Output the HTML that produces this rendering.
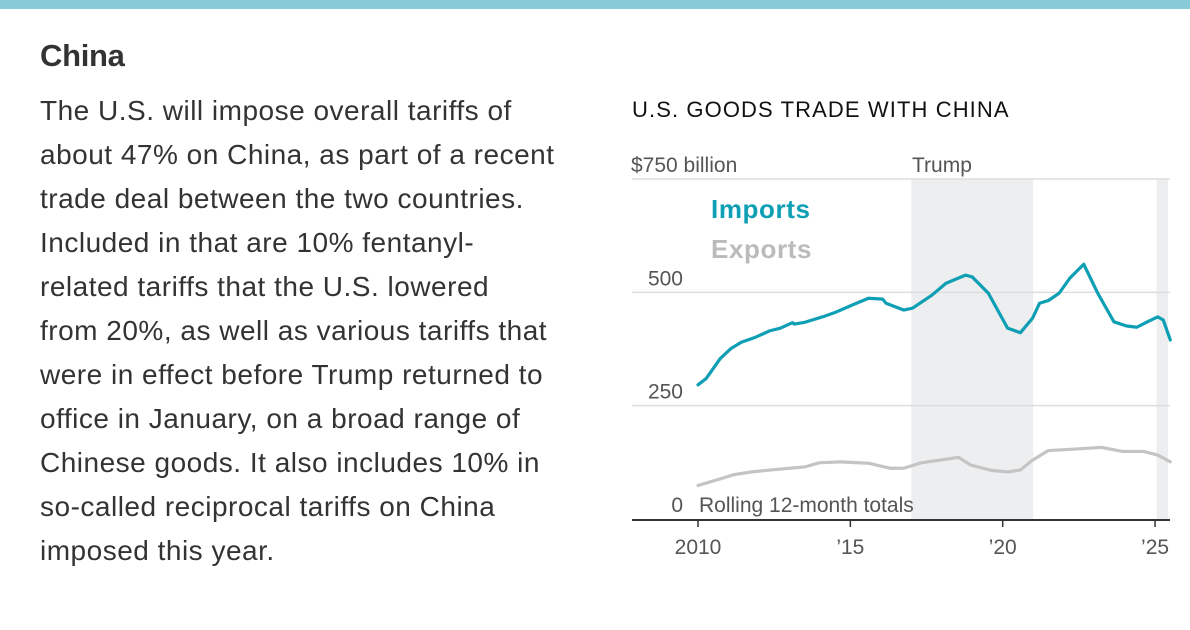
<!DOCTYPE html>
<html><head><meta charset="utf-8"><style>
body{margin:0;width:1190px;height:630px;background:#fff;overflow:hidden;font-family:"Liberation Sans",sans-serif;position:relative}
#bar{position:absolute;left:0;top:0;width:1190px;height:9px;background:#88cad8}
#title{position:absolute;left:40px;top:38px;font-size:31px;font-weight:bold;color:#333;letter-spacing:-0.3px}
#body{position:absolute;left:40px;top:89px;font-size:28px;line-height:44px;color:#333;letter-spacing:0.5px}
#body div{white-space:nowrap}
#ctitle{position:absolute;left:632px;top:97px;font-size:22px;color:#111;letter-spacing:1.1px}
svg{position:absolute;left:0;top:0}
svg text{font-family:"Liberation Sans",sans-serif}
</style></head><body>
<div id="bar"></div>
<div id="title">China</div>
<div id="body">
<div>The U.S. will impose overall tariffs of</div>
<div>about 47% on China, as part of a recent</div>
<div>trade deal between the two countries.</div>
<div>Included in that are 10% fentanyl-</div>
<div>related tariffs that the U.S. lowered</div>
<div>from 20%, as well as various tariffs that</div>
<div>were in effect before Trump returned to</div>
<div>office in January, on a broad range of</div>
<div>Chinese goods. It also includes 10% in</div>
<div>so-called reciprocal tariffs on China</div>
<div>imposed this year.</div>
</div>
<div id="ctitle">U.S. GOODS TRADE WITH CHINA</div>
<svg id="chart" width="1190" height="630"></svg>
<script>
const importYears=[2010.0,2010.27,2010.73,2011.08,2011.42,2011.89,2012.35,2012.7,2013.1,2013.16,2013.51,2014.09,2014.55,2015.13,2015.6,2016.06,2016.17,2016.75,2017.04,2017.68,2018.14,2018.78,2019.0,2019.53,2020.16,2020.58,2020.98,2021.21,2021.5,2021.85,2022.2,2022.66,2023.12,2023.65,2024.05,2024.4,2024.69,2025.09,2025.27,2025.5];
const importValues=[296,310,354,376,390,401,415,421,433,430,434,446,457,474,487,485,476,461,465,494,520,538,534,498,421,411,443,476,482,498,531,562,498,435,426,423,433,446,439,395];
const exportYears=[2010.0,2010.61,2011.19,2011.77,2012.35,2013.51,2013.97,2014.67,2015.6,2016.29,2016.75,2017.33,2018.14,2018.55,2018.95,2019.65,2020.17,2020.58,2020.98,2021.5,2022.31,2023.24,2023.93,2024.63,2025.09,2025.5];
const exportValues=[74,86,98,104,108,115,124,126,123,112,112,124,132,136,119,107,104,108,130,151,154,158,149,149,141,126];
const yTicks=[0,250,500,750];
const yTickLabels=["0","250","500","$750 billion"];
const xTicks=[2010,2015,2020,2025];
const xTickLabels=["2010","\u201915","\u201920","\u201925"];
const shadeStart=[2017.0,2025.05];
const shadeEnd=[2021.0,2025.5];

const x=y=>698+(y-2010)*30.47;
const yv=v=>519-v*0.4533;
const svg=document.getElementById('chart');
const NS='http://www.w3.org/2000/svg';
function mk(t,a){const e=document.createElementNS(NS,t);for(const k in a)e.setAttribute(k,a[k]);svg.appendChild(e);return e;}
for(let i=0;i<shadeStart.length;i++){
  const r=mk('rect',{x:x(shadeStart[i]),y:yv(750),width:(i==1?1168:x(shadeEnd[i]))-x(shadeStart[i]),height:yv(0)-yv(750),fill:'#edeef0'});
  
  
}
for(let i=0;i<yTicks.length;i++){
  if(yTicks[i]>0){
    const g=mk('line',{x1:632,x2:1170,y1:yv(yTicks[i]),y2:yv(yTicks[i]),stroke:'#ddd','stroke-width':1.5});
    
    
  }
  const t=mk('text',{x:yTicks[i]==750?631:683,y:yv(yTicks[i])-7,'text-anchor':yTicks[i]==750?'start':'end','font-size':21,fill:'#555'});
  t.textContent=yTickLabels[i];
  
  
}
const tr=mk('text',{x:912,y:yv(750)-7,'font-size':21,fill:'#555'});tr.textContent='Trump';


const rl=mk('text',{x:699,y:yv(0)-7,'font-size':21,fill:'#555'});rl.textContent='Rolling 12-month totals';


const ax=mk('line',{x1:632,x2:1170,y1:520,y2:520,stroke:'#333','stroke-width':2});


for(let i=0;i<xTicks.length;i++){
  const tk=mk('line',{x1:x(xTicks[i]),x2:x(xTicks[i]),y1:520,y2:527,stroke:'#333','stroke-width':1.5});
  
  
  const t=mk('text',{x:x(xTicks[i]),y:554,'text-anchor':'middle','font-size':21,fill:'#555'});
  t.textContent=xTickLabels[i];
  
  
}
function line(xs,vs,c,n){
  const p=mk('polyline',{points:xs.map((a,i)=>x(a)+','+yv(vs[i])).join(' '),fill:'none',stroke:c,'stroke-width':3.2,'stroke-linejoin':'round','stroke-linecap':'round'});
  
  
}
line(exportYears,exportValues,'#c4c4c4','exports-line');
line(importYears,importValues,'#0e9fb5','imports-line');
const li=mk('text',{x:711,y:218,'font-size':26,'font-weight':'bold',fill:'#0e9fb5','letter-spacing':0.6});li.textContent='Imports';


const le=mk('text',{x:711,y:258,'font-size':26,'font-weight':'bold',fill:'#bbb','letter-spacing':0.6});le.textContent='Exports';


</script>
</body></html>
